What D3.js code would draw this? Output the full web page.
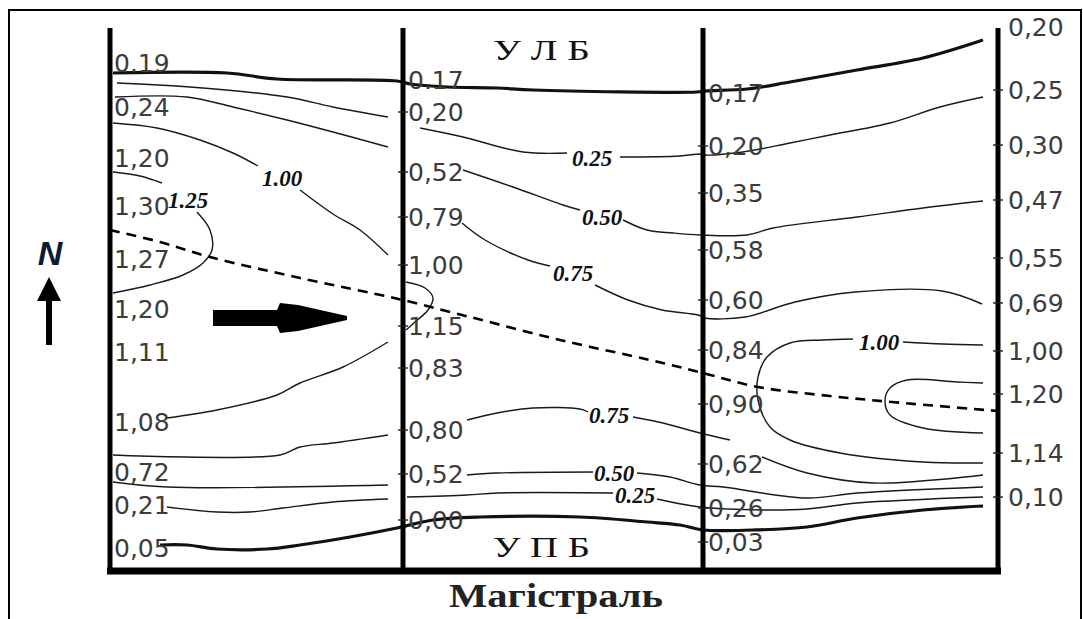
<!DOCTYPE html>
<html>
<head>
<meta charset="utf-8">
<script src="https://cdn.jsdelivr.net/npm/d3@7"></script>
<style>
    html, body { margin: 0; padding: 0; background: #fff; }
    svg { display: block; }
</style>
</head>
<body>
<svg id="chart" width="1083" height="619"></svg>
<script>
// data (x: metres along the magistral, y: metres across the channel from the left bank)

let sectionX = [0, 293, 593, 888];

let sectionValues = [
    ['0.19', '0,24', '1,20', '1,30', '1,27', '1,20', '1,11', '1,08', '0,72', '0,21', '0,05'],
    ['0.17', '0,20', '0,52', '0,79', '1,00', '1,15', '0,83', '0,80', '0,52', '0,00'],
    ['0,17', '0,20', '0,35', '0,58', '0,60', '0,84', '0,90', '0,62', '0,26', '0,03'],
    ['0,20', '0,25', '0,30', '0,47', '0,55', '0,69', '1,00', '1,20', '1,14', '0,10'],
];
let sectionY = [
    [33, 77, 128, 176, 229, 279, 322, 392, 442, 475, 518],
    [50, 82, 142, 187, 235, 296, 338, 400, 444, 490],
    [63, 116, 163, 220, 270, 320, 374, 434, 478, 512],
    [-3, 60, 115, 170, 228, 273, 321, 364, 423, 467],
];

// isolines (thick ones are the zero-velocity lines at the banks)
let isoTop = [[3,43],[117,43],[167,49],[287,51],[300,54],[337,57],[387,58],[423,60],[587,62],[595,61],[637,59],[680,52],[747,40],[813,28],[873,10]];
let isoBottom = [[50,515],[77,515],[107,519],[157,519],[190,515],[240,507],[287,498],[323,490],[370,487],[470,487],[537,492],[570,495],[593,500],[643,500],[697,497],[747,488],[813,480],[873,476]];

let isolines = [
    [[7,53],[80,57],[177,67],[223,77],[278,87]],
    [[5,67],[77,67],[123,77],[177,90],[223,102],[278,117]],
    [[3,93],[47,98],[90,110],[123,123],[148,136]],
    [[190,160],[223,184],[250,200],[278,225]],
    [[3,142],[30,146],[52,153]],
    [[87,182],[100,200],[102,220],[93,233],[73,245],[40,255],[3,263]],
    [[57,388],[107,380],[167,365],[190,353],[233,337],[278,312]],
    [[3,425],[170,425],[190,417],[223,413],[278,405]],
    [[3,452],[57,457],[278,455]],
    [[57,477],[107,482],[140,482],[173,478],[223,472],[278,469]],
    [[310,98],[353,107],[413,122],[457,123]],
    [[510,127],[570,126],[590,124],[595,125],[633,122],[680,113],[720,105],[780,93],[830,77],[873,67]],
    [[353,140],[403,157],[453,175],[470,180]],
    [[513,190],[537,200],[563,203],[590,205],[637,205],[663,198],[747,187],[813,178],[873,171]],
    [[352,193],[375,210],[418,230],[440,236]],
    [[485,255],[518,270],[552,280],[588,285],[595,288],[635,287],[685,272],[745,262],[832,261],[872,274]],
    [[296,252],[315,258],[323,268],[318,280],[305,292],[296,300]],
    [[357,390],[387,383],[423,378],[470,379],[478,382]],
    [[523,387],[553,393],[590,403],[620,410]],
    [[357,445],[387,443],[483,442]],
    [[527,443],[560,447],[590,455],[613,457],[697,468],[747,463],[873,457]],
    [[297,467],[357,465],[387,463],[503,463]],
    [[547,469],[590,477],[652,480],[697,479],[747,473],[873,467]],
    [[652,427],[697,443],[763,453],[873,445]],
    [[873,315],[833,314],[793,312]],
    [[743,309],[713,310],[680,313],[657,327],[648,347],[648,370],[660,397],[680,410],[730,423],[813,432],[873,433]],
    [[873,353],[847,352],[797,350],[780,358],[775,370],[780,385],[813,398],[873,403]],
];

let isoLabels = ['1.25', '1.00', '0.25', '0.50', '0.75', '0.75', '0.50', '0.25', '1.00'];
let isoLabelPos = [[78,178],[172,156],[482,136],[492,195],[463,251],[499,393],[504,451],[525,473],[769,320]];

// dynamic axis (maximum velocity line)
let dynamicAxis = [[0,200],[50,212],[100,227],[190,248],[280,267],[293,270],[360,287],[450,310],[540,330],[593,343],[648,357],[720,366],[782,372],[888,381]];

// flow direction
let flowArrow = { from: 103, to: 237, y: 288 };

// scales

let x = d3.scaleLinear().domain([0, 888]).range([110, 998]);
let y = d3.scaleLinear().domain([0, 540]).range([30, 570]);

let svg = d3.select('#chart');

// outer frame
svg.append('path')
    .attr('d', 'M9,619 V10 H1081 V619')
    .attr('fill', 'none')
    .attr('stroke', '#000')
    .attr('stroke-width', 2);

let line = d3.line()
    .x(d => x(d[0]))
    .y(d => y(d[1]))
    .curve(d3.curveCatmullRom.alpha(0.5));

// isolines
svg.append('g')
    .selectAll('path')
    .data(isolines)
    .enter()
    .append('path')
    .attr('d', line)
    .attr('fill', 'none')
    .attr('stroke', '#1a1a1a')
    .attr('stroke-width', 1.4);

svg.append('g')
    .selectAll('path')
    .data([isoTop, isoBottom])
    .enter()
    .append('path')
    .attr('d', line)
    .attr('fill', 'none')
    .attr('stroke', '#111')
    .attr('stroke-width', 3.2);

// dashed axis
svg.append('path')
    .datum(dynamicAxis)
    .attr('d', line)
    .attr('fill', 'none')
    .attr('stroke', '#000')
    .attr('stroke-width', 2.6)
    .attr('stroke-dasharray', '10,7');

// sections
svg.append('g')
    .selectAll('line')
    .data(sectionX)
    .enter()
    .append('line')
    .attr('x1', d => x(d))
    .attr('x2', d => x(d))
    .attr('y1', y(-2))
    .attr('y2', y(543))
    .attr('stroke', '#000')
    .attr('stroke-width', 5);

svg.append('line')
    .attr('x1', x(0) - 3)
    .attr('x2', x(888) + 3)
    .attr('y1', y(541))
    .attr('y2', y(541))
    .attr('stroke', '#000')
    .attr('stroke-width', 7);

// measured values at each section
let labelOffset = [4, 5, 5, 10];

sectionValues.forEach((vals, si) => {
    let g = svg.append('g');
    if (si > 0) {
        g.selectAll('line')
            .data(sectionY[si].slice(1))
            .enter()
            .append('line')
            .attr('x1', x(sectionX[si]) - 5)
            .attr('x2', x(sectionX[si]) + 5)
            .attr('y1', d => y(d))
            .attr('y2', d => y(d))
            .attr('stroke', '#222')
            .attr('stroke-width', 1.4);
    }
    g.selectAll('text')
        .data(vals)
        .enter()
        .append('text')
        .attr('x', x(sectionX[si]) + labelOffset[si])
        .attr('y', (d, i) => y(sectionY[si][i]))
        .attr('dy', '0.36em')
        .style('font-family', '"DejaVu Sans", Verdana, sans-serif')
        .style('font-size', '25px')
        .attr('fill', '#3c3c3c')
        .text(d => d);
});

// isoline labels
svg.append('g')
    .selectAll('text')
    .data(isoLabels)
    .enter()
    .append('text')
    .attr('x', (d, i) => x(isoLabelPos[i][0]))
    .attr('y', (d, i) => y(isoLabelPos[i][1]))
    .attr('text-anchor', 'middle')
    .style('font-family', '"Liberation Serif", "Times New Roman", serif')
    .style('font-size', '23px')
    .style('font-weight', 'bold')
    .style('font-style', 'italic')
    .attr('fill', '#111')
    .text(d => d);

// flow arrow
let ax0 = x(flowArrow.from), ax1 = x(flowArrow.to), ay = y(flowArrow.y);
svg.append('polygon')
    .attr('points', [
        [ax0, ay - 8], [ax0 + 64, ay - 8], [ax0 + 67, ay - 15], [ax0 + 85, ay - 13],
        [ax1, ay - 2], [ax1, ay + 2], [ax0 + 85, ay + 13], [ax0 + 67, ay + 15],
        [ax0 + 64, ay + 8], [ax0, ay + 8],
    ].map(p => p.join(',')).join(' '))
    .attr('fill', '#000');

// bank names
[['У Л Б', 60], ['У П Б', 557]].forEach(([t, by]) => {
    svg.append('text')
        .attr('x', 493)
        .attr('y', by)
        .attr('textLength', 97)
        .attr('lengthAdjust', 'spacingAndGlyphs')
        .style('font-family', '"Liberation Serif", "Times New Roman", serif')
        .style('font-size', '30px')
        .attr('fill', '#111')
        .text(t);
});

// north arrow
svg.append('text')
    .attr('x', 50)
    .attr('y', 265)
    .attr('text-anchor', 'middle')
    .style('font-family', '"Liberation Sans", Arial, sans-serif')
    .style('font-size', '34px')
    .style('font-weight', 'bold')
    .style('font-style', 'italic')
    .attr('fill', '#0d1a33')
    .text('N');

svg.append('polygon')
    .attr('points', '49,277 37,301 61,301')
    .attr('fill', '#000');
svg.append('rect')
    .attr('x', 46).attr('y', 299)
    .attr('width', 6).attr('height', 46)
    .attr('fill', '#000');

// title
svg.append('text')
    .attr('x', 449)
    .attr('y', 607)
    .attr('textLength', 214)
    .attr('lengthAdjust', 'spacingAndGlyphs')
    .style('font-family', '"Liberation Serif", "Times New Roman", serif')
    .style('font-size', '33px')
    .style('font-weight', 'bold')
    .attr('fill', '#222')
    .text('Магістраль');
</script>
</body>
</html>
